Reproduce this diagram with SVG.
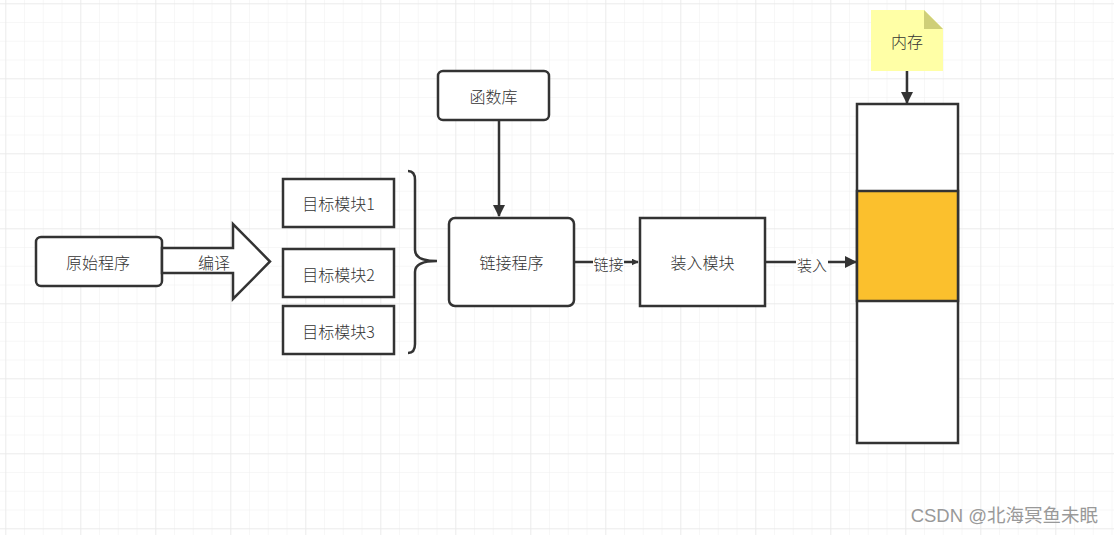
<svg xmlns="http://www.w3.org/2000/svg" width="1114" height="535" viewBox="0 0 1114 535">
<defs>
<pattern id="minor" x="5.3" y="3.3" width="18.75" height="18.75" patternUnits="userSpaceOnUse">
<path d="M0 0H18.75M0 0V18.75" fill="none" stroke="#f0f0f0" stroke-width="1"/>
</pattern>
<pattern id="major" x="5.3" y="3.3" width="75" height="75" patternUnits="userSpaceOnUse">
<path d="M0 0H75M0 0V75" fill="none" stroke="#e4e4e4" stroke-width="1"/>
</pattern>
<marker id="arr" viewBox="0 0 10 10" refX="9" refY="5" markerWidth="7" markerHeight="7" markerUnits="userSpaceOnUse" orient="auto">
<path d="M0 0L10 5L0 10Z" fill="#333"/>
</marker>
<marker id="arrB" viewBox="0 0 12 12" refX="11" refY="6" markerWidth="12" markerHeight="12" markerUnits="userSpaceOnUse" orient="auto">
<path d="M0 0L12 6L0 12Z" fill="#333"/>
</marker>
</defs>
<style>
.box{fill:#fff;stroke:#333;stroke-width:2.5}
.t{font-family:"Noto Sans CJK SC","Liberation Sans",sans-serif;font-size:16px;font-weight:300;fill:#333;text-anchor:middle;dominant-baseline:central}
.l{font-size:15px}
.ln{fill:none;stroke:#333;stroke-width:2.5}
.wm{font-family:"Liberation Sans","Noto Sans CJK SC",sans-serif;font-size:18.5px;fill:#999;text-anchor:end}
</style>
<rect width="1114" height="535" fill="#fff"/>
<rect width="1114" height="535" fill="url(#minor)"/>
<rect width="1114" height="535" fill="url(#major)"/>

<g id="yuanshi">
<rect class="box" x="36" y="237" width="126" height="49" rx="5"/>
<text class="t" x="98" y="261.5">原始程序</text>
</g>
<g id="bianyi">
<path class="box" d="M162 248H233V224L270 261.5L233 299V273H162Z"/>
<text class="t" x="214" y="261.5">编译</text>
</g>
<g id="mubiao1">
<rect class="box" x="283" y="179" width="111" height="48"/>
<text class="t" x="338.5" y="203">目标模块1</text>
</g>
<g id="mubiao2">
<rect class="box" x="283" y="249" width="111" height="48"/>
<text class="t" x="338.5" y="274">目标模块2</text>
</g>
<g id="mubiao3">
<rect class="box" x="283" y="306" width="111" height="48"/>
<text class="t" x="338.5" y="331">目标模块3</text>
</g>
<g id="brace">
<path class="ln" d="M408 171Q415 171 415 180V250Q415 261 437 261Q415 261 415 272V344Q415 353 408 353" stroke-width="2"/>
</g>
<g id="hanshuku">
<rect class="box" x="438" y="71" width="111" height="49" rx="5"/>
<text class="t" x="493.5" y="95.5">函数库</text>
</g>
<g id="lianjie">
<rect class="box" x="449" y="218" width="125" height="88" rx="6"/>
<text class="t" x="511.5" y="262">链接程序</text>
</g>
<g id="zhuangru">
<rect class="box" x="640" y="218" width="125" height="88"/>
<text class="t" x="702.5" y="262">装入模块</text>
</g>
<g id="neicun">
<rect class="box" x="857" y="104" width="101" height="339"/>
<rect x="857" y="191" width="101" height="110" fill="#fbc02d" stroke="#333" stroke-width="2.5"/>
</g>
<g id="note">
<path d="M871 10H924L943 29V71H871Z" fill="#ffffa6"/>
<path d="M924 10L943 29H924Z" fill="#cfcf78"/>
<text class="t" x="907" y="41">内存</text>
</g>
<g id="connectors">
<line class="ln" x1="499" y1="120" x2="499" y2="216" marker-end="url(#arrB)"/>
<line class="ln" x1="574" y1="262" x2="638" y2="262" marker-end="url(#arr)"/>
<rect x="593" y="254" width="31" height="17" fill="#fff"/>
<text class="t l" x="608.5" y="263">链接</text>
<line class="ln" x1="765" y1="262" x2="856" y2="262" marker-end="url(#arrB)"/>
<rect x="796" y="254" width="32" height="17" fill="#fff"/>
<text class="t l" x="812" y="264">装入</text>
<line class="ln" x1="907" y1="71" x2="907" y2="103" marker-end="url(#arrB)"/>
</g>
<text class="wm" x="1098" y="522">CSDN @北海冥鱼未眠</text>
</svg>
